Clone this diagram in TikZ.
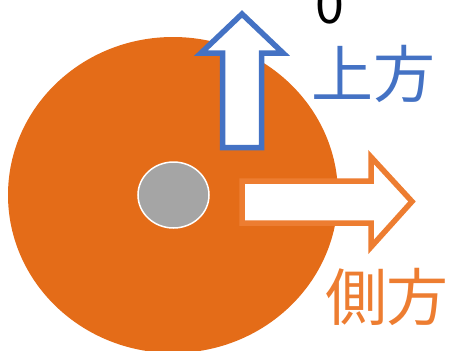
\documentclass[tikz,border=0pt]{standalone}
\usepackage{fontspec}
\newfontfamily\cjkfont{Noto Sans CJK JP}
\usetikzlibrary{shapes.geometric}
\definecolor{diskor}{RGB}{228,108,24}
\definecolor{arrowor}{RGB}{237,125,49}
\definecolor{arrowbl}{RGB}{68,114,196}
\definecolor{hubgray}{RGB}{165,165,165}
\tikzset{
  disk/.style={fill=diskor},
  hubdisk/.style={ellipse, fill=hubgray, draw=white, line width=1.5pt, minimum width=71pt, minimum height=66pt, inner sep=0pt},
  blockarrow/.style={fill=white, line width=5.5pt, miter limit=10, line join=miter},
  bigtext/.style={font=\cjkfont\fontsize{62pt}{62pt}\selectfont, inner sep=0pt, anchor=base},
}
\begin{document}
\begin{tikzpicture}[x=1pt,y=-1pt]
\useasboundingbox (0,0) rectangle (451,351);
\clip (0,0) rectangle (451,351);
\fill[disk] (173,195) ellipse [x radius=165, y radius=158];
\node[hubdisk] (hub) at (173.5,195) {};
\draw[blockarrow, draw=arrowbl] (222.5,147.5) -- (222.5,53) -- (201,53) -- (242,14) -- (283,53) -- (261.5,53) -- (261.5,147.5) -- cycle;
\draw[blockarrow, draw=arrowor] (242,181) -- (371,181) -- (371,157) -- (412,201.5) -- (371,247) -- (371,223) -- (242,223) -- cycle;
\node[bigtext, text=arrowbl] (up) at (373.5,97) {上方};
\node[bigtext, text=arrowor] (side) at (387,320) {側方};
\node[font=\cjkfont\fontsize{52pt}{52pt}\selectfont, inner sep=0pt, anchor=base] (zero) at (329.5,23.5) {0};
\end{tikzpicture}
\end{document}
